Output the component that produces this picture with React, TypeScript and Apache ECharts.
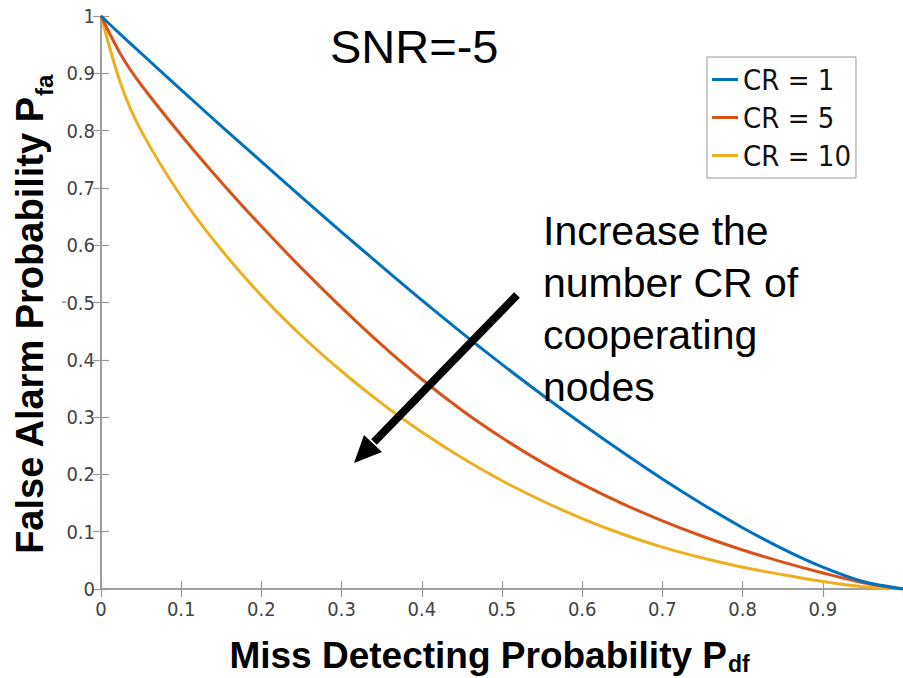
import React, { useEffect, useRef } from "react";
import * as echarts from "echarts";

// Miss detecting probability (x)
const pdf = [0, 0.025, 0.05, 0.1, 0.15, 0.2, 0.25, 0.3, 0.35, 0.4, 0.45, 0.5, 0.55, 0.6, 0.65, 0.7, 0.75, 0.8, 0.85, 0.9, 0.95, 1];
// False alarm probability (y) for each CR
const cr1 = [1, 0.967, 0.935, 0.871, 0.808, 0.746, 0.684, 0.623, 0.563, 0.504, 0.447, 0.392, 0.339, 0.288, 0.239, 0.192, 0.148, 0.107, 0.07, 0.038, 0.013, 0];
const cr5 = [1, 0.932, 0.88, 0.792, 0.71, 0.633, 0.56, 0.491, 0.426, 0.366, 0.312, 0.264, 0.221, 0.183, 0.149, 0.119, 0.092, 0.068, 0.047, 0.028, 0.011, 0];
const cr10 = [1, 0.88, 0.8, 0.685, 0.592, 0.512, 0.442, 0.38, 0.324, 0.274, 0.229, 0.189, 0.154, 0.123, 0.096, 0.073, 0.054, 0.038, 0.025, 0.013, 0.004, 0];
const seriesNames = ["CR = 1", "CR = 5", "CR = 10"];
const seriesColors = ["#0072BD", "#D95319", "#EDB120"];
const title = "SNR=-5";
const annotation = "Increase the\nnumber CR of\ncooperating\nnodes";
const xLabelMain = "Miss Detecting Probability P";
const xLabelSub = "df";
const yLabelMain = "False Alarm Probability P";
const yLabelSub = "fa";

const NARROW = "'Liberation Sans Narrow', 'Arial Narrow', 'DejaVu Sans Condensed', 'Roboto Condensed', 'Liberation Sans', sans-serif";
const SANS = "'Liberation Sans', Arial, Helvetica, sans-serif";
const AXIS_COLOR = "#9a9a9a";
const LABEL_COLOR = "#444";

export default function App() {
  const ref = useRef<HTMLDivElement>(null);
  useEffect(() => {
    if (!ref.current) return;
    const chart = echarts.init(ref.current, null, { renderer: "svg" });
    const allY = [cr1, cr5, cr10];
    const tickAxisCommon = {
      type: "value" as const,
      min: 0,
      max: 1,
      interval: 0.1,
      splitLine: { show: false },
    };
    chart.setOption({
      animation: false,
      backgroundColor: "#fff",
      grid: { left: 101, right: 0, top: 16, bottom: 89, containLabel: false },
      xAxis: [
        {
          ...tickAxisCommon,
          position: "bottom",
          axisLine: { show: true, lineStyle: { color: AXIS_COLOR, width: 1.5 } },
          axisTick: { show: true, inside: true, length: 8, lineStyle: { color: AXIS_COLOR, width: 1.2 } },
          axisLabel: { show: true, margin: 10, showMaxLabel: false, color: LABEL_COLOR, fontFamily: NARROW, fontSize: 20 },
        },
        {
          ...tickAxisCommon,
          position: "top",
          axisLine: { show: true, lineStyle: { color: AXIS_COLOR, width: 1.5 } },
          axisTick: { show: true, inside: true, length: 8, lineStyle: { color: AXIS_COLOR, width: 1.2 } },
          axisLabel: { show: false },
        },
      ],
      yAxis: [
        {
          ...tickAxisCommon,
          position: "left",
          axisLine: { show: true, lineStyle: { color: AXIS_COLOR, width: 1.5 } },
          axisTick: { show: true, inside: true, length: 8, lineStyle: { color: AXIS_COLOR, width: 1.2 } },
          axisLabel: { show: true, margin: 6, color: LABEL_COLOR, fontFamily: NARROW, fontSize: 20 },
        },
        {
          ...tickAxisCommon,
          position: "right",
          axisLine: { show: true, lineStyle: { color: AXIS_COLOR, width: 1.5 } },
          axisTick: { show: true, inside: true, length: 8, lineStyle: { color: AXIS_COLOR, width: 1.2 } },
          axisLabel: { show: false },
        },
      ],
      legend: {
        orient: "vertical",
        left: 707,
        top: 57,
        padding: [7, 5, 7, 5],
        itemWidth: 26,
        itemHeight: 3,
        itemGap: 7,
        icon: "rect",
        borderColor: "#999",
        borderWidth: 1,
        backgroundColor: "#fff",
        data: seriesNames,
        textStyle: { fontFamily: NARROW, fontSize: 29, color: "#111", lineHeight: 31 },
      },
      series: seriesNames.map((name, i) => ({
        name,
        type: "line",
        xAxisIndex: 0,
        yAxisIndex: 0,
        data: pdf.map((x, j) => [x, allY[i][j]]),
        showSymbol: false,
        symbol: "none",
        smooth: 0.3,
        color: seriesColors[i],
        lineStyle: { color: seriesColors[i], width: 3 },
        z: 3 - i,
      })),
      graphic: [
        {
          type: "text",
          x: 330,
          y: 46,
          style: { text: title, fontFamily: SANS, fontSize: 47, fill: "#000", textAlign: "left", textVerticalAlign: "middle" },
          z: 10,
        },
        {
          type: "text",
          x: 543,
          y: 205,
          style: {
            text: annotation,
            fontFamily: SANS,
            fontSize: 41,
            lineHeight: 52,
            fill: "#000",
            textAlign: "left",
            textVerticalAlign: "top",
          },
          z: 10,
        },
        {
          type: "line",
          shape: { x1: 517, y1: 295, x2: 374, y2: 442 },
          style: { stroke: "#000", lineWidth: 8 },
          z: 10,
        },
        {
          type: "polygon",
          shape: { points: [[354, 463], [364, 435], [382, 452]] },
          style: { fill: "#000" },
          z: 10,
        },
        {
          type: "line",
          shape: { x1: 62, y1: 302, x2: 66, y2: 302 },
          style: { stroke: "#777", lineWidth: 1.2 },
        },
        {
          type: "text",
          x: 727,
          y: 655,
          style: { text: xLabelMain, fontFamily: SANS, fontWeight: "bold", fontSize: 37, fill: "#000", textAlign: "right", textVerticalAlign: "middle" },
        },
        {
          type: "text",
          x: 728,
          y: 664,
          style: { text: xLabelSub, fontFamily: SANS, fontWeight: "bold", fontSize: 23, fill: "#000", textAlign: "left", textVerticalAlign: "middle" },
        },
        {
          type: "text",
          x: 30,
          y: 97,
          rotation: Math.PI / 2,
          style: { text: yLabelMain, fontFamily: SANS, fontWeight: "bold", fontSize: 38, fill: "#000", textAlign: "right", textVerticalAlign: "middle" },
        },
        {
          type: "text",
          x: 44,
          y: 96,
          rotation: Math.PI / 2,
          style: { text: yLabelSub, fontFamily: SANS, fontWeight: "bold", fontSize: 24, fill: "#000", textAlign: "left", textVerticalAlign: "middle" },
        },
      ],
    });
    return () => chart.dispose();
  }, []);
  return (
    <div
      ref={ref}
      style={{ position: "fixed", left: 0, top: 0, width: 903, height: 678, background: "#fff" }}
    />
  );
}
